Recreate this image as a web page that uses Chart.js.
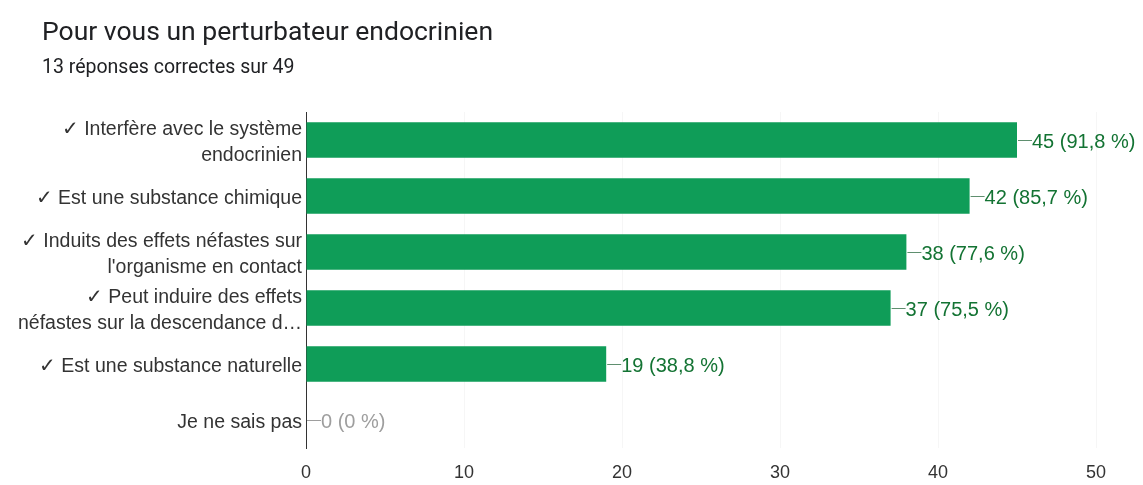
<!DOCTYPE html>
<html lang="fr">
<head>
<meta charset="utf-8">
<title>Pour vous un perturbateur endocrinien</title>
<script src="https://cdn.jsdelivr.net/npm/chart.js@4/dist/chart.umd.min.js"></script>
<style>
    html, body { margin: 0; padding: 0; background: #fff; }
    #wrap { position: relative; width: 1143px; height: 485px; }
    #titre {
        position: absolute; left: 42px; top: 15px; line-height: 32px;
        font-family: Roboto, Arial, sans-serif; font-size: 26.5px; color: #202124;
    }
    #sousTitre {
        position: absolute; left: 42px; top: 55px; line-height: 24px;
        font-family: Roboto, Arial, sans-serif; font-size: 19.5px; color: #202124;
    }
    canvas { position: absolute; left: 0; top: 0; }
</style>
</head>
<body>
<div id="wrap">
    <canvas id="reponsesChart" width="1143" height="485"></canvas>
    <div id="titre">Pour vous un perturbateur endocrinien</div>
    <div id="sousTitre">13 réponses correctes sur 49</div>
</div>
<script>
var categories = [
    ['✓ Interfère avec le système', 'endocrinien'],
    '✓ Est une substance chimique',
    ['✓ Induits des effets néfastes sur', "l'organisme en contact"],
    ['✓ Peut induire des effets', 'néfastes sur la descendance d…'],
    '✓ Est une substance naturelle',
    'Je ne sais pas'
];
var reponses = [45, 42, 38, 37, 19, 0];
var pourcentages = ['91,8', '85,7', '77,6', '75,5', '38,8', '0'];
var graduations = [0, 10, 20, 30, 40, 50];

var vert = '#0f9d58';
var vertTexte = '#137333';
var police = '"Liberation Sans", Arial, sans-serif';

// petit trait + "n (x %)" au bout de chaque barre
var etiquettesValeurs = {
    id: 'etiquettesValeurs',
    afterDatasetsDraw: function(chart) {
        var ctx = chart.ctx;
        var meta = chart.getDatasetMeta(0);
        ctx.save();
        ctx.font = '20px ' + police;
        ctx.textBaseline = 'middle';
        meta.data.forEach(function(bar, i) {
            var couleur = reponses[i] > 0 ? vertTexte : '#9e9e9e';
            var x = bar.x + 1;
            var y = bar.y;
            ctx.strokeStyle = reponses[i] > 0 ? '#5f8f6f' : '#9e9e9e';
            ctx.lineWidth = 1;
            ctx.beginPath();
            ctx.moveTo(x, y + 0.5);
            ctx.lineTo(x + 14, y + 0.5);
            ctx.stroke();
            ctx.fillStyle = couleur;
            ctx.fillText(reponses[i] + ' (' + pourcentages[i] + ' %)', x + 14, y + 2);
        });
        ctx.restore();
    }
};

var ctx = document.getElementById('reponsesChart').getContext('2d');
var chart = new Chart(ctx, {
    type: 'bar',
    data: {
        labels: categories,
        datasets: [{
            data: reponses,
            backgroundColor: vert,
            borderWidth: 0,
            barPercentage: 1,
            categoryPercentage: 0.63
        }]
    },
    options: {
        indexAxis: 'y',
        responsive: false,
        animation: false,
        layout: { padding: { top: 112, right: 47, bottom: 0, left: 0 } },
        plugins: {
            legend: { display: false },
            tooltip: { enabled: false }
        },
        scales: {
            x: {
                min: 0,
                max: 50,
                afterBuildTicks: function(scale) {
                    scale.ticks = graduations.map(function(v) { return { value: v }; });
                },
                afterFit: function(scale) { scale.height = 37; },
                grid: { color: '#f6f6f6', drawTicks: false },
                border: { display: false },
                ticks: {
                    padding: 14,
                    color: '#333',
                    font: { family: police, size: 18 }
                }
            },
            y: {
                afterFit: function(scale) { scale.width = 306; },
                grid: { display: false, drawTicks: false },
                border: { display: true, color: '#333', width: 1 },
                ticks: {
                    autoSkip: false,
                    padding: 4,
                    labelOffset: 3,
                    color: '#333',
                    font: { family: police, size: 19.5, lineHeight: 1.33 }
                }
            }
        }
    },
    plugins: [etiquettesValeurs]
});
</script>
</body>
</html>
